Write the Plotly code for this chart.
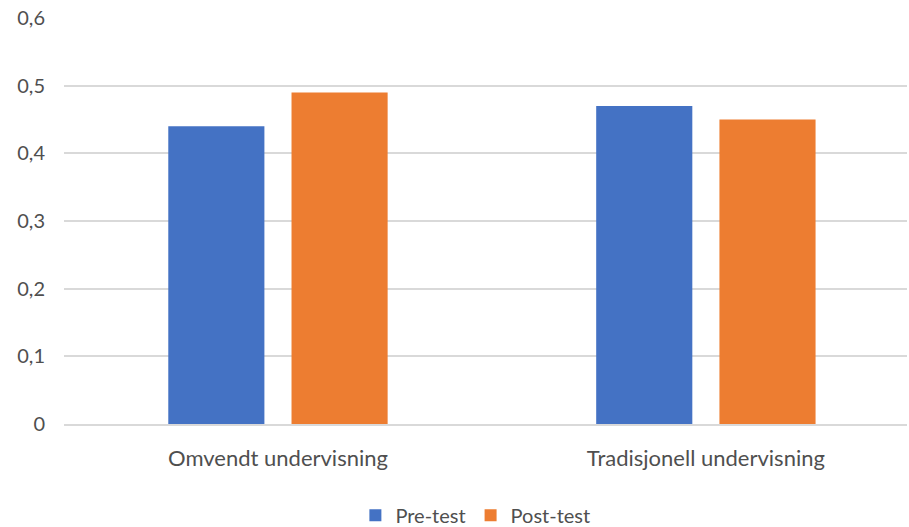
import plotly.graph_objects as go

categories = ["Omvendt undervisning", "Tradisjonell undervisning"]
pre_test = [0.44, 0.47]
post_test = [0.49, 0.45]
y_ticks = [0, 0.1, 0.2, 0.3, 0.4, 0.5, 0.6]

FONT = "Lato, 'Open Sans', sans-serif"
TEXT = "#4f4f4f"

fig = go.Figure()
fig.add_trace(go.Bar(name="Pre-test", x=categories, y=pre_test,
                     marker=dict(color="#4472C4", line=dict(width=0))))
fig.add_trace(go.Bar(name="Post-test", x=categories, y=post_test,
                     marker=dict(color="#ED7D31", line=dict(width=0))))

fig.update_layout(
    width=909, height=527,
    margin=dict(l=64, r=2, t=18, b=103, autoexpand=False),
    paper_bgcolor="white", plot_bgcolor="white",
    barmode="group", bargap=0.424, bargroupgap=0.22,
    separators=", ",
    font=dict(family=FONT, size=21, color=TEXT),
    showlegend=True,
    legend=dict(orientation="h", x=0.488, xanchor="center", y=-0.225, yanchor="middle",
                font=dict(size=20, color=TEXT), itemwidth=30, traceorder="normal"),
)
fig.update_xaxes(range=[-0.5, 1.47], showgrid=False, showline=True, automargin=False,
                 linecolor="#d9d9d9", linewidth=2, ticks="", ticklabelstandoff=14,
                 tickfont=dict(size=22, color=TEXT))
fig.update_yaxes(range=[0, 0.6], tickvals=y_ticks, showgrid=True, gridcolor="#d9d9d9",
                 gridwidth=2, zeroline=False, showline=False, ticks="", automargin=False,
                 ticklabelstandoff=18, tickfont=dict(size=20, color=TEXT))

fig.write_html("out.html")
